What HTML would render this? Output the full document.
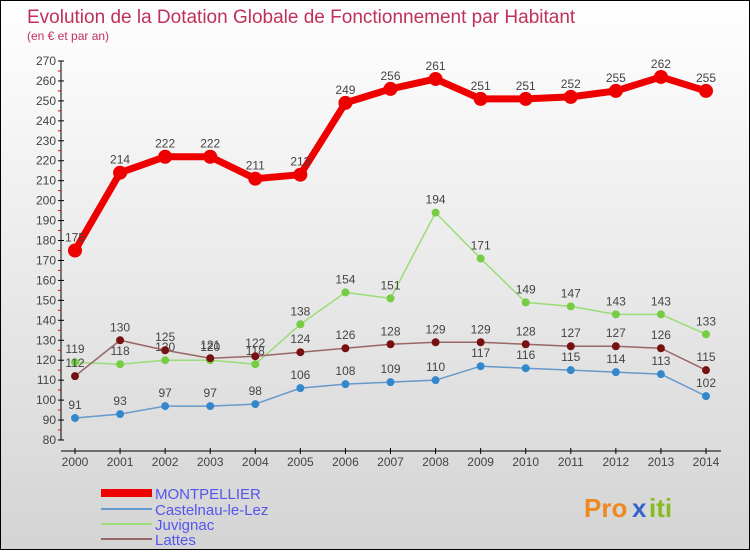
<!DOCTYPE html>
<html><head><meta charset="utf-8"><style>
html,body{margin:0;padding:0}
body{width:750px;height:550px;overflow:hidden;font-family:"Liberation Sans",sans-serif}
#wrap{position:absolute;left:0;top:0;width:748px;height:548px;border:1px solid #000;background:linear-gradient(#ffffff,#d4d4d4)}
</style></head><body>
<div id="wrap">
<svg id="chart" width="748" height="548" xmlns="http://www.w3.org/2000/svg">
<text x="26" y="22" font-size="19" fill="#c0305a">Evolution de la Dotation Globale de Fonctionnement par Habitant</text>
<text x="26" y="39" font-size="12" fill="#c0305a">(en € et par an)</text>
<g id="axes"></g><g id="series"></g>
<g>
<rect x="100" y="488" width="51" height="8" fill="#ee0000"/>
<text x="154" y="498" font-size="15" fill="#5555ee">MONTPELLIER</text>
<rect x="100" y="507" width="51" height="2" fill="#6699cc"/>
<text x="154" y="514" font-size="15" fill="#5555ee">Castelnau-le-Lez</text>
<rect x="100" y="522" width="51" height="2" fill="#99dd77"/>
<text x="154" y="529" font-size="15" fill="#5555ee">Juvignac</text>
<rect x="100" y="537" width="51" height="2" fill="#996666"/>
<text x="154" y="544" font-size="15" fill="#5555ee">Lattes</text>
</g>
<g>
<text x="583" y="516" font-size="26" font-weight="bold" fill="#ee8822">Pro</text>
<text x="631" y="516" font-size="26" font-weight="bold" fill="#3366cc">x</text>
<text x="648" y="516" font-size="26" font-weight="bold" fill="#88bb22">iti</text>
</g>
</svg>
</div>
<script>
const years=[2000,2001,2002,2003,2004,2005,2006,2007,2008,2009,2010,2011,2012,2013,2014];
const montpellier=[175,214,222,222,211,213,249,256,261,251,251,252,255,262,255];
const castelnau=[91,93,97,97,98,106,108,109,110,117,116,115,114,113,102];
const juvignac=[119,118,120,120,118,138,154,151,194,171,149,147,143,143,133];
const lattes=[112,130,125,121,122,124,126,128,129,129,128,127,127,126,115];
const yTicks=[80,90,100,110,120,130,140,150,160,170,180,190,200,210,220,230,240,250,260,270];
const NS="http://www.w3.org/2000/svg";
const X0=74,X1=705,Y0=439,Y1=60,VMIN=80,VMAX=270;
function xs(i){return X0+(X1-X0)*i/(years.length-1);}
function ys(v){return Y0-(Y0-Y1)*(v-VMIN)/(VMAX-VMIN);}
function mk(tag,attrs,parent){const e=document.createElementNS(NS,tag);for(const k in attrs)e.setAttribute(k,attrs[k]);parent.appendChild(e);return e;}
const ax=document.getElementById('axes');
let yl=mk('line',{x1:60,y1:Y1,x2:60,y2:Y0,stroke:'#000','stroke-width':1},ax);


yTicks.forEach((t,i)=>{
  const y=ys(t);
  mk('line',{x1:57,y1:y,x2:63,y2:y,stroke:'#000'},ax);
  if(i<yTicks.length-1) mk('line',{x1:57,y1:y-10,x2:60,y2:y-10,stroke:'#ee0000'},ax);
  const tx=mk('text',{x:55,y:y+4,'font-size':12,fill:'#444','text-anchor':'end'},ax);
  tx.textContent=t;
  
  
});
let xl=mk('line',{x1:60,y1:450,x2:720,y2:450,stroke:'#000'},ax);


years.forEach((yr,i)=>{
  const x=xs(i);
  mk('line',{x1:x,y1:447,x2:x,y2:453,stroke:'#000'},ax);
  const tx=mk('text',{x:x,y:465,'font-size':12,fill:'#444','text-anchor':'middle'},ax);
  tx.textContent=yr;
  
  
});
const sg=document.getElementById('series');
function draw(vals,name,color,dot,w,r,fs){
  const g=mk('g',{},sg);
  
  
  const pts=vals.map((v,i)=>xs(i)+','+ys(v)).join(' ');
  mk('polyline',{points:pts,fill:'none',stroke:color,'stroke-width':w,'stroke-linejoin':'round'},g);
  vals.forEach((v,i)=>{
    const c=mk('circle',{cx:xs(i),cy:ys(v),r:r,fill:dot,stroke:dot},g);
    
    
    const t=mk('text',{x:xs(i),y:ys(v)-9,'font-size':fs,fill:'#444','text-anchor':'middle'},g);
    t.textContent=v;
    
    
  });
}
draw(castelnau,'castelnau','#6699cc','#3388cc',1.5,3.5,12);
draw(juvignac,'juvignac','#99dd77','#77cc44',1.5,3.5,12);
draw(lattes,'lattes','#996666','#771111',1.5,3.5,12);
draw(montpellier,'montpellier','#ee0000','#ee0000',7,6.5,12);
</script>
</body></html>
